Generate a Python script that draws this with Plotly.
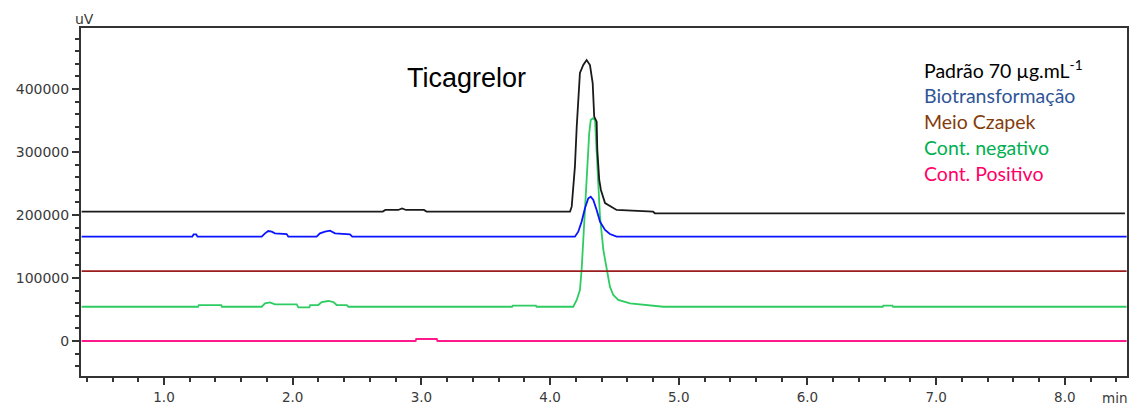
import plotly.graph_objects as go

# ---- data (time in min, signal in uV) ----
t_black = [0.36, 2.70, 2.72, 2.82, 2.85, 2.88, 3.02, 3.04, 4.155, 4.168, 4.193, 4.207, 4.232,
           4.258, 4.284, 4.310, 4.331, 4.343, 4.362, 4.367, 4.382, 4.395, 4.427, 4.517, 4.80,
           4.815, 8.467]
v_black = [205500, 205500, 208000, 208000, 210500, 208000, 208000, 205500, 205500, 213200,
           276700, 340200, 425400, 438100, 446000, 438100, 409500, 356000, 348100, 303200,
           255600, 239700, 219000, 208000, 205200, 202700, 202700]

t_blue = [0.36, 1.220, 1.230, 1.250, 1.260, 1.759, 1.785, 1.810, 1.837, 1.862, 1.953, 1.966,
          2.186, 2.212, 2.251, 2.290, 2.329, 2.445, 2.463, 4.193, 4.219, 4.245, 4.271, 4.297,
          4.316, 4.336, 4.362, 4.388, 4.427, 4.465, 4.517, 8.48]
v_blue = [165600, 165600, 169300, 169300, 165600, 165600, 170900, 174600, 173500, 170900,
          169800, 165600, 165600, 170900, 173500, 175100, 170900, 169300, 165600, 165600,
          173500, 189400, 210600, 226500, 229000, 223800, 207900, 189400, 176200, 169800,
          165600, 165600]

t_brown = [0.36, 8.48]
v_brown = [111000, 111000]

t_green = [0.36, 1.265, 1.270, 1.445, 1.450, 1.759, 1.785, 1.824, 1.862, 2.031, 2.044, 2.130,
           2.136, 2.199, 2.225, 2.277, 2.316, 2.342, 2.420, 2.433, 3.705, 3.71, 3.89, 3.895,
           4.180, 4.207, 4.232, 4.245, 4.258, 4.284, 4.304, 4.316, 4.331, 4.349, 4.362, 4.375,
           4.388, 4.414, 4.440, 4.465, 4.491, 4.530, 4.621, 4.880, 6.585, 6.59, 6.66, 6.665,
           8.48]
v_green = [54400, 54400, 57100, 57100, 54400, 54400, 59800, 61400, 58200, 58200, 53400, 53400,
           57100, 57100, 61900, 63500, 61900, 57100, 57100, 54400, 54400, 56000, 56000, 54400,
           54400, 65100, 81000, 112700, 160300, 250300, 329700, 350800, 353500, 350800, 303200,
           250300, 197300, 144400, 112700, 86200, 73000, 65100, 59800, 54400, 54400, 56000,
           56000, 54400, 54400]

t_pink = [0.36, 2.955, 2.96, 3.12, 3.125, 8.48]
v_pink = [0, 0, 3200, 3200, 0, 0]

legend_labels = ["Padrão 70 µg.mL<sup>-1</sup>", "Biotransformação", "Meio Czapek",
                 "Cont. negativo", "Cont. Positivo"]
legend_colors = ["#000000", "#2F5597", "#843C0C", "#00B050", "#FF0066"]

x_range = [0.355, 8.483]
y_range = [-55556, 496825]

fig = go.Figure()
traces = [
    (t_green, v_green, "#2ECC62"),
    (t_pink, v_pink, "#FF1A8C"),
    (t_brown, v_brown, "#9B1C1C"),
    (t_blue, v_blue, "#0A14FF"),
    (t_black, v_black, "#1A1A1A"),
]
for tx, vy, col in traces:
    fig.add_trace(go.Scatter(x=tx, y=vy, mode="lines", line=dict(color=col, width=1.8),
                             showlegend=False, hoverinfo="skip"))

axis_col = "#333333"
ytick_font = dict(family="DejaVu Sans", size=14, color="#3a3a3a")
xtick_font = dict(family="DejaVu Sans", size=13.5, color="#3a3a3a")

fig.update_layout(
    width=1134, height=405,
    margin=dict(l=81, r=7, t=28, b=29, autoexpand=False),
    paper_bgcolor="white", plot_bgcolor="white",
    xaxis=dict(range=x_range, showgrid=False, zeroline=False, showline=True,
               linecolor=axis_col, linewidth=2, mirror=True, automargin=False,
               ticks="outside", ticklen=7, tickwidth=2, tickcolor=axis_col,
               tick0=0, dtick=1, tickformat=".1f", tickfont=xtick_font,
               ticklabelstandoff=1,
               minor=dict(ticks="outside", ticklen=4, tickwidth=2, tickcolor=axis_col,
                          dtick=0.2, tick0=0, showgrid=False)),
    yaxis=dict(range=y_range, showgrid=False, zeroline=False, showline=True,
               linecolor=axis_col, linewidth=2, mirror=True, automargin=False,
               ticks="outside", ticklen=7, tickwidth=2, tickcolor=axis_col,
               tick0=0, dtick=100000, tickformat="d", tickfont=ytick_font,
               ticklabelstandoff=0,
               minor=dict(ticks="outside", ticklen=4, tickwidth=2, tickcolor=axis_col,
                          dtick=20000, tick0=0, showgrid=False)),
)

# axis units
fig.add_annotation(text="uV", xref="paper", yref="paper", x=0, y=1, xanchor="center",
                   yanchor="bottom", xshift=3, yshift=-1, showarrow=False,
                   font=dict(family="DejaVu Sans", size=14, color="#3a3a3a"))
fig.add_annotation(text="min", xref="paper", yref="paper", x=1, y=0, xanchor="right",
                   yanchor="top", xshift=2, yshift=-12, showarrow=False,
                   font=dict(family="DejaVu Sans", size=13.5, color="#3a3a3a"))

# peak label
fig.add_annotation(text="Ticagrelor", xref="x", yref="y", x=3.35, y=418000,
                   showarrow=False, xanchor="center", yanchor="middle",
                   font=dict(family="Liberation Sans", size=27, color="#000000"))

# coloured text legend
for i, (lab, col) in enumerate(zip(legend_labels, legend_colors)):
    fig.add_annotation(text=lab, xref="paper", yref="paper", x=(922 - 81) / 1046,
                       y=(376 - (69.5 + 26 * i)) / 348, xanchor="left", yanchor="middle",
                       showarrow=False, font=dict(family="Lato", size=19.5, color=col))

fig.write_html("out.html")
